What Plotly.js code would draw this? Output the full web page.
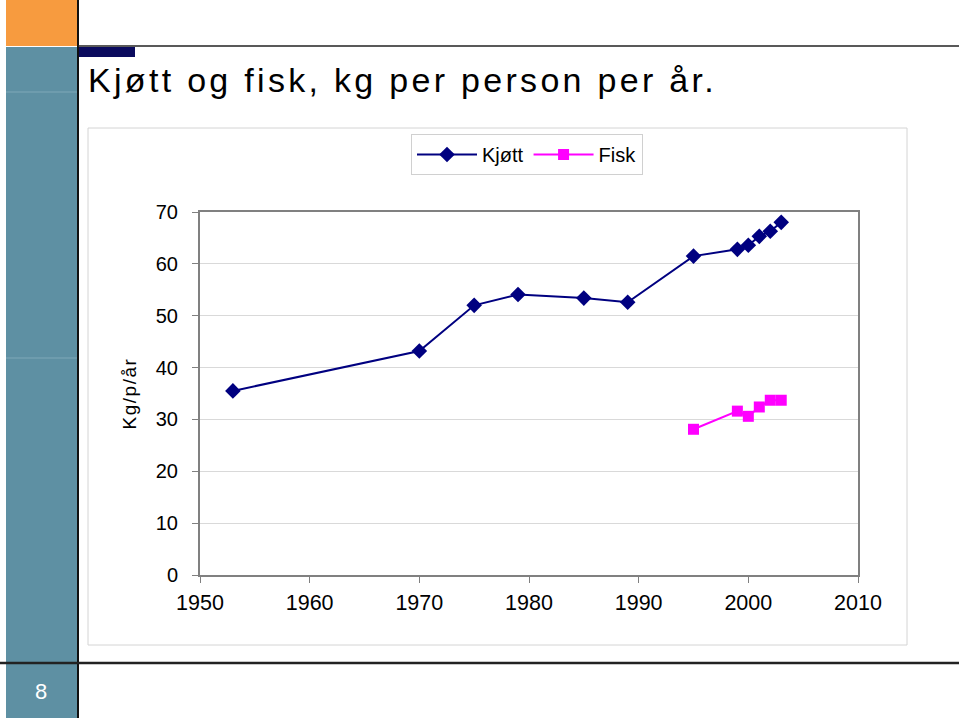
<!DOCTYPE html>
<html>
<head>
<meta charset="utf-8">
<script src="https://cdn.plot.ly/plotly-3.0.1.min.js"></script>
<style>
html,body{margin:0;padding:0;background:#fff;}
#chart{width:959px;height:718px;}
#chart text.gtitle{letter-spacing:3.3px;}
#chart text.ytitle{letter-spacing:1.5px;}
</style>
</head>
<body>
<div id="chart"></div>
<script>
// Data
const kjottYears = [1953, 1970, 1975, 1979, 1985, 1989, 1995, 1999, 2000, 2001, 2002, 2003];
const kjottValues = [35.5, 43.2, 52.0, 54.1, 53.4, 52.6, 61.5, 62.8, 63.6, 65.3, 66.3, 68.0];
const fiskYears = [1995, 1999, 2000, 2001, 2002, 2003];
const fiskValues = [28.1, 31.6, 30.6, 32.4, 33.7, 33.7];
const seriesNames = ["Kjøtt", "Fisk"];
const xTickVals = [1950, 1960, 1970, 1980, 1990, 2000, 2010];
const yTickVals = [0, 10, 20, 30, 40, 50, 60, 70];
const slideTitle = "Kjøtt og fisk, kg per person per år.";
const yTitle = "Kg/p/år";
const pageNumber = "8";

const W = 959, H = 718;
const px = v => v / W;
const py = v => 1 - v / H;
const FONT = "Liberation Sans, Arial, sans-serif";

const traces = [
  {
    x: kjottYears, y: kjottValues, name: seriesNames[0], type: "scatter", mode: "lines+markers",
    line: {color: "#000080", width: 2},
    marker: {symbol: "diamond", size: 12, color: "#000080"}
  },
  {
    x: fiskYears, y: fiskValues, name: seriesNames[1], type: "scatter", mode: "lines+markers",
    line: {color: "#FF00FF", width: 2},
    marker: {symbol: "square", size: 11, color: "#FF00FF"}
  }
];

function rect(x0, y0, x1, y1, fill, line) {
  return {type: "rect", xref: "paper", yref: "paper", x0: px(x0), x1: px(x1), y0: py(y1), y1: py(y0),
    fillcolor: fill, line: line || {width: 0}, layer: "below"};
}
function lineShape(x0, y0, x1, y1, color, width) {
  return {type: "line", xref: "paper", yref: "paper", x0: px(x0), x1: px(x1), y0: py(y0), y1: py(y1),
    line: {color: color, width: width}, layer: "above"};
}

const layout = {
  width: W, height: H,
  margin: {l: 0, r: 0, t: 0, b: 0},
  paper_bgcolor: "#ffffff", plot_bgcolor: "#ffffff",
  font: {family: FONT, color: "#000000"},
  showlegend: true,
  legend: {
    orientation: "h", x: px(411), y: py(134), xanchor: "left", yanchor: "top",
    bordercolor: "#d0d0d0", borderwidth: 1, bgcolor: "#ffffff",
    font: {family: FONT, size: 20, color: "#000"},
    itemwidth: 60, tracegroupgap: 0
  },
  title: {
    text: slideTitle, x: px(88), xanchor: "left", xref: "paper",
    y: py(80), yanchor: "middle", yref: "paper",
    font: {family: FONT, size: 34, color: "#000"}
  },
  xaxis: {
    domain: [px(200), px(858)], range: [1950, 2010], tickvals: xTickVals,
    showgrid: false, zeroline: false, showline: true, mirror: true,
    linecolor: "#808080", linewidth: 2,
    ticks: "outside", ticklen: 6, tickcolor: "#808080", tickwidth: 1,
    tickfont: {family: FONT, size: 21.5, color: "#000"}, ticklabelstandoff: 1,
    automargin: false, fixedrange: true
  },
  yaxis: {
    domain: [py(575), py(212)], range: [0, 70], tickvals: yTickVals,
    showgrid: true, gridcolor: "#d9d9d9", gridwidth: 1, zeroline: false,
    showline: true, mirror: true, linecolor: "#808080", linewidth: 2,
    ticks: "outside", ticklen: 6, tickcolor: "#808080", tickwidth: 1,
    tickfont: {family: FONT, size: 20, color: "#000"}, ticklabelstandoff: 10,
    title: {text: yTitle, font: {family: FONT, size: 19, color: "#000"}, standoff: 14},
    automargin: false, fixedrange: true
  },
  shapes: [
    rect(6, 0, 77, 46, "#F79B3F"),
    rect(6, 47, 77, 718, "#5E90A3"),
    lineShape(6, 92, 77, 92, "#7FA8B8", 1),
    lineShape(6, 358, 77, 358, "#7FA8B8", 1),
    rect(78, 47, 135, 57, "#0B0B5E"),
    rect(88, 128, 907, 645, "rgba(0,0,0,0)", {color: "#d4d4d4", width: 1}),
    lineShape(78, 0, 78, 718, "#111111", 2),
    lineShape(78, 46, 959, 46, "#222222", 1.5),
    lineShape(0, 663, 959, 663, "#222222", 2.5)
  ],
  annotations: [
    {text: pageNumber, xref: "paper", yref: "paper", x: px(41), y: py(691), xanchor: "center", yanchor: "middle",
      showarrow: false, font: {family: FONT, size: 22, color: "#ffffff"}}
  ]
};

Plotly.newPlot("chart", traces, layout, {displayModeBar: false, staticPlot: true});
</script>
</body>
</html>
